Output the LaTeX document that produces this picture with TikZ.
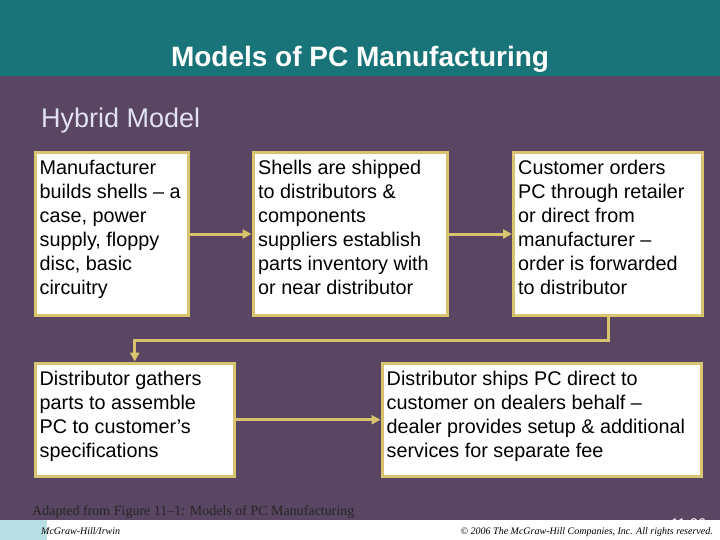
\documentclass[tikz,border=0pt]{standalone}
\usepackage{fontspec}
\setmainfont{Liberation Sans}
\newfontfamily\seriffont{Liberation Serif}
\usetikzlibrary{arrows.meta}
\definecolor{bandteal}{RGB}{24,116,121}
\definecolor{plum}{RGB}{90,69,99}
\definecolor{gold}{RGB}{216,196,110}
\definecolor{paleblue}{RGB}{185,224,228}
\definecolor{lav}{RGB}{226,226,244}
\begin{document}
\begin{tikzpicture}[x=1pt,y=-1pt,
  box/.style={draw=gold,line width=3pt,fill=white,inner sep=0pt,anchor=north west},
  boxtext/.style={anchor=base west,inner sep=0pt,align=left,font=\fontsize{19.8}{24}\selectfont,text=black},
  conn/.style={draw=gold,line width=3pt,-{Triangle[length=9pt,width=9pt]}},
  foot/.style={inner sep=0pt,font=\seriffont\itshape\fontsize{10}{12}\selectfont,text=black}]
\useasboundingbox (0,0) rectangle (720,540);
\fill[plum] (0,0) rectangle (720,540);
\fill[bandteal] (0,0) rectangle (720,76);
\node[anchor=base,inner sep=0pt,font=\bfseries\fontsize{28}{34}\selectfont,text=white] (title) at (360,67) {Models of PC Manufacturing};
\node[anchor=base west,inner sep=0pt,font=\fontsize{27}{31}\selectfont,text=lav] (sub) at (41,128) {Hybrid Model};
% boxes
\node[box,minimum width=153pt,minimum height=162pt] (b1) at (33.5,151.5) {};
\node[box,minimum width=194pt,minimum height=162pt] (b2) at (251.5,151.5) {};
\node[box,minimum width=189pt,minimum height=162pt] (b3) at (512,151.5) {};
\node[box,minimum width=199.5pt,minimum height=113.5pt] (b4) at (33.5,361.5) {};
\node[box,minimum width=319.5pt,minimum height=113.5pt] (b5) at (380.5,361.5) {};
% texts (base anchor = baseline of the last line)
\node[boxtext] (t1) at (39.5,294) {Manufacturer\\builds shells – a\\case, power\\supply, floppy\\disc, basic\\circuitry};
\node[boxtext] (t2) at (258,294) {Shells are shipped\\to distributors \&\\components\\suppliers establish\\parts inventory with\\or near distributor};
\node[boxtext] (t3) at (518,294) {Customer orders\\PC through retailer\\or direct from\\manufacturer –\\order is forwarded\\to distributor};
\node[boxtext] (t4) at (39.5,457) {Distributor gathers\\parts to assemble\\PC to customer’s\\specifications};
\node[boxtext] (t5) at (386.5,457) {Distributor ships PC direct to\\customer on dealers behalf –\\dealer provides setup \& additional\\services for separate fee};
% connectors
\draw[conn] (b1.east) -- (b2.west);
\draw[conn] (b2.east) -- (b3.west);
\draw[conn] (b3.south) -- ++(0,24) -| (b4.north);
\draw[conn] (b4.east) -- (b5.west);
% footer
\node[anchor=base west,inner sep=0pt,font=\seriffont\fontsize{14}{16}\selectfont,text=black!85] (src) at (32,515.5) {Adapted from Figure 11–1: Models of PC Manufacturing};
\node[anchor=base east,inner sep=0pt,font=\fontsize{14}{16}\selectfont,text=white] (pg) at (706,528) {11-26};
\fill[white] (0,519.5) rectangle (720,540);
\fill[paleblue] (0,519.5) rectangle (47,540);
\node[foot,anchor=base west] (mh) at (41,534) {McGraw-Hill/Irwin};
\node[foot,anchor=base east] (copy) at (713,534) {© 2006 The McGraw-Hill Companies, Inc. All rights reserved.};
\end{tikzpicture}
\end{document}
